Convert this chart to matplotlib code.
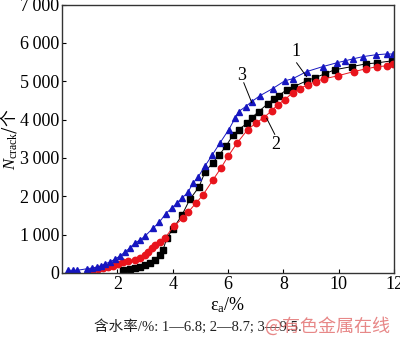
import matplotlib
matplotlib.use("Agg")
from matplotlib import pyplot as plt

matplotlib.rcParams["font.family"] = ["Liberation Serif", "Noto Sans CJK SC"]
matplotlib.rcParams["mathtext.fontset"] = "custom"
matplotlib.rcParams["mathtext.rm"] = "Liberation Serif"
matplotlib.rcParams["mathtext.it"] = "Liberation Serif:italic"
matplotlib.rcParams["mathtext.bf"] = "Liberation Serif:bold"

# curve 1: water content 6.8 %
strain_1 = [2.2, 2.45, 2.63, 2.82, 3.0, 3.18, 3.36, 3.54, 3.65, 3.79, 4.0,
            4.33, 4.62, 4.95, 5.16, 5.45, 5.67, 5.92, 6.17, 6.39, 6.68, 6.86,
            7.11, 7.44, 7.65, 7.83, 8.12, 8.38, 8.84, 9.13, 9.49, 9.86,
            10.47, 10.97, 11.4, 11.91]
cracks_1 = [80, 100, 130, 155, 210, 260, 340, 470, 600, 910, 1140,
            1500, 1920, 2240, 2620, 2880, 3065, 3300, 3585, 3740, 3900, 4050,
            4210, 4415, 4545, 4620, 4780, 4860, 5010, 5090, 5190, 5300,
            5380, 5450, 5480, 5530]

# curve 2: water content 8.7 %
strain_2 = [1.08, 1.3, 1.48, 1.66, 1.84, 2.02, 2.2, 2.38, 2.63, 2.82, 3.0,
            3.1, 3.25, 3.36, 3.54, 3.72, 4.04, 4.37, 4.55, 4.84, 5.09, 5.45,
            5.74, 6.0, 6.32, 6.71, 7.0, 7.29, 7.58, 7.8, 8.05, 8.34, 8.59,
            8.88, 9.17, 9.46, 9.96, 10.54, 10.97, 11.4, 11.73, 11.95]
cracks_2 = [60, 100, 130, 155, 180, 230, 285, 310, 340, 390, 470,
            545, 650, 730, 800, 910, 1220, 1430, 1580, 1820, 2030, 2420,
            2730, 3040, 3380, 3740, 3900, 4050, 4230, 4390, 4520, 4700, 4805,
            4910, 4990, 5060, 5140, 5250, 5320, 5380, 5400, 5450]

# curve 3: water content 9.5 %
strain_3 = [0.2, 0.38, 0.55, 0.9, 1.08, 1.26, 1.41, 1.55, 1.73, 1.91, 2.09,
            2.27, 2.45, 2.63, 2.82, 3.0, 3.29, 3.52, 3.75, 3.97, 4.15, 4.33,
            4.55, 4.73, 4.91, 5.16, 5.42, 5.7, 6.03, 6.25, 6.39, 6.64, 6.86,
            7.15, 7.62, 8.05, 8.34, 8.84, 9.42, 9.93, 10.22, 10.5, 10.87,
            11.34, 11.73, 11.95]
cracks_3 = [70, 70, 70, 110, 130, 155, 180, 240, 285, 360, 440,
            545, 650, 780, 860, 960, 1170, 1325, 1550, 1690, 1820, 1950,
            2100, 2340, 2490, 2780, 3065, 3380, 3740, 4030, 4210, 4340, 4470,
            4620, 4810, 5010, 5065, 5250, 5380, 5480, 5530, 5580, 5640,
            5690, 5710, 5710]

x_ticks = [2, 4, 6, 8, 10, 12]
y_ticks = [0, 1000, 2000, 3000, 4000, 5000, 6000, 7000]
y_tick_labels = ["0", "1\u2009000", "2\u2009000", "3\u2009000", "4\u2009000",
                 "5\u2009000", "6\u2009000", "7\u2009000"]

fig = plt.figure(figsize=(4.0, 3.42), dpi=100)
ax = fig.add_axes([0.155, 0.2018, 0.83, 0.785])

ax.plot(strain_1, cracks_1, "-s", color="black", lw=0.7, ms=4.2, mec="black")
ax.plot(strain_2, cracks_2, "-o", color="#e8141c", lw=0.7, ms=4.6, mec="#e8141c")
ax.plot(strain_3, cracks_3, "-^", color="#1616c0", lw=0.7, ms=5.0, mec="#1616c0")

ax.set_xlim(0, 12)
ax.set_ylim(0, 7000)
ax.set_xticks(x_ticks)
ax.set_yticks(y_ticks)
ax.set_yticklabels(y_tick_labels)
ax.tick_params(direction="in", length=3, width=0.8, labelsize=13, pad=2)
for s in ax.spines.values():
    s.set_linewidth(1.0)
    s.set_color("#333333")

# curve labels with leader lines
ax.plot([8.48, 8.84], [5480, 5120], color="black", lw=0.7)
ax.text(8.45, 5560, "1", fontsize=13, ha="center", va="bottom")
ax.plot([6.57, 6.86], [4960, 4440], color="black", lw=0.7)
ax.text(6.5, 4920, "3", fontsize=13, ha="center", va="bottom")
ax.plot([7.4, 7.69], [4030, 3615], color="black", lw=0.7)
ax.text(7.72, 3580, "2", fontsize=13, ha="center", va="top")

ax.set_xlabel("ε$_\\mathrm{a}$/%", fontsize=13, labelpad=2)
ax.set_ylabel("$N_\\mathrm{crack}$/个", fontsize=12, family="Noto Sans CJK SC")
ax.yaxis.set_label_coords(-0.13, 0.5)

fig.text(0.495, 0.044, "含水率/%: 1—6.8; 2—8.7; 3—9.5.", fontsize=10.5,
         ha="center", va="center", color="#222222")
fig.text(0.82, 0.046, "@有色金属在线", fontsize=13, family="Noto Sans CJK SC",
         ha="center", va="center", color="#e06060", alpha=0.75)

fig.savefig("out.png", dpi=100)
